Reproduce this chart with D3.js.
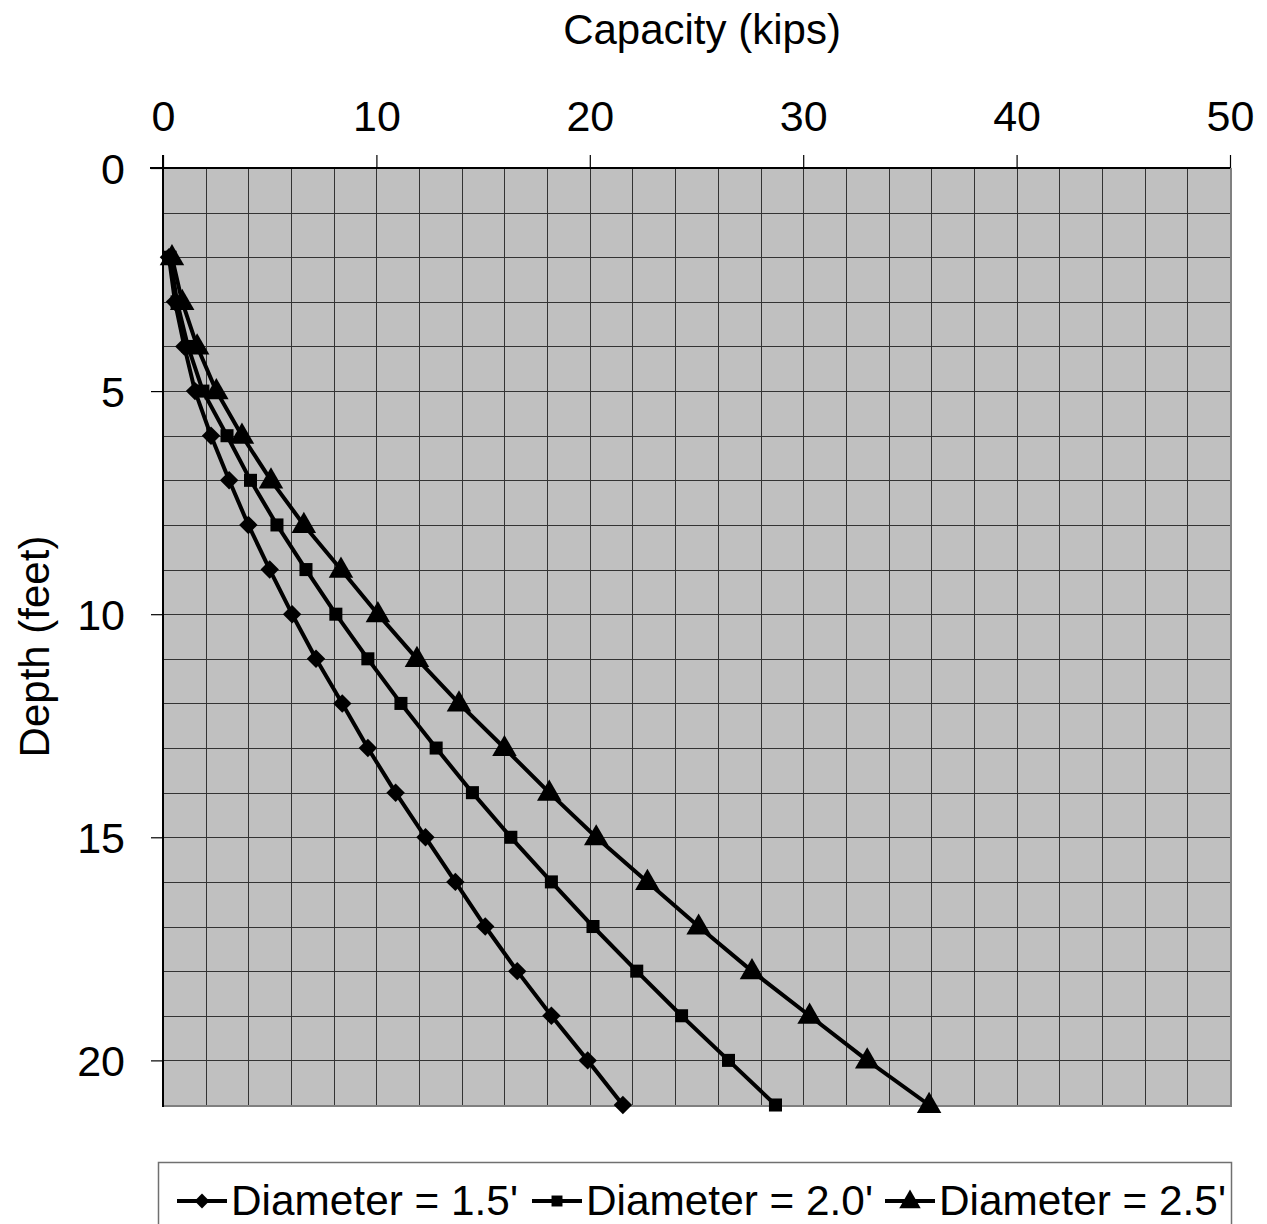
<!DOCTYPE html>
<html>
<head>
<meta charset="utf-8">
<script src="https://cdn.jsdelivr.net/npm/d3@7"></script>
<style>
  html, body { margin: 0; padding: 0; background: #fff; }
  svg { display: block; font-family: "Liberation Sans", Arial, sans-serif; }
</style>
</head>
<body>
<svg id="chart" width="1267" height="1224"></svg>
<script>
const depths = [2,3,4,5,6,7,8,9,10,11,12,13,14,15,16,17,18,19,20,21];
const dia15 = [0.28,0.56,1.0,1.5,2.25,3.1,4.0,5.0,6.05,7.17,8.4,9.6,10.9,12.3,13.7,15.1,16.6,18.2,19.9,21.55];
const dia20 = [0.33,0.66,1.17,1.87,3.0,4.1,5.34,6.7,8.1,9.6,11.15,12.8,14.5,16.3,18.2,20.15,22.2,24.3,26.5,28.7];
const dia25 = [0.42,0.9,1.6,2.5,3.7,5.06,6.6,8.34,10.07,11.9,13.87,16.0,18.1,20.3,22.7,25.1,27.6,30.3,33.0,35.9];
const seriesNames = ["Diameter = 1.5'", "Diameter = 2.0'", "Diameter = 2.5'"];
const xTicks = [0,10,20,30,40,50];
const yTicks = [0,5,10,15,20];
const xTitle = "Capacity (kips)";
const yTitle = "Depth (feet)";

const svg = d3.select("#chart");
const L = 163, R = 1230, T = 168, B = 1105;
const x = d3.scaleLinear().domain([0,50]).range([L,R]);
const y = d3.scaleLinear().domain([0,21]).range([T,B]);

// plot background
svg.append("rect").attr("x",L).attr("y",T).attr("width",R-L).attr("height",B-T).attr("fill","#c0c0c0");

// grid
const g = svg.append("g").attr("shape-rendering","crispEdges");
g.selectAll("line.vx").data(d3.range(2,50,2)).enter().append("line")
  .attr("x1",d=>Math.round(x(d))+0.5).attr("x2",d=>Math.round(x(d))+0.5)
  .attr("y1",T).attr("y2",B).attr("stroke","#333").attr("stroke-width",1);
g.selectAll("line.hy").data(d3.range(1,21,1)).enter().append("line")
  .attr("y1",d=>Math.round(y(d))+0.5).attr("y2",d=>Math.round(y(d))+0.5)
  .attr("x1",L).attr("x2",R).attr("stroke","#333").attr("stroke-width",1);

// border (right/bottom gray)
g.append("line").attr("x1",R+1).attr("x2",R+1).attr("y1",T).attr("y2",B+2).attr("stroke","#808080").attr("stroke-width",2);
g.append("line").attr("x1",L).attr("x2",R+2).attr("y1",B+1).attr("y2",B+1).attr("stroke","#808080").attr("stroke-width",2);

// axes
const xAxis = d3.axisTop(x).tickValues(xTicks).tickSize(13).tickPadding(24).tickFormat(d3.format("d"));
const yAxis = d3.axisLeft(y).tickValues(yTicks).tickSize(12).tickPadding(26).tickFormat(d3.format("d"));
const gx = svg.append("g").attr("transform",`translate(0,${T})`).call(xAxis);
const gy = svg.append("g").attr("transform",`translate(${L},0)`).call(yAxis);
[gx,gy].forEach(a=>{
  a.select(".domain").remove();
  a.selectAll(".tick line").attr("stroke","#000").attr("stroke-width",1.2);
  a.selectAll(".tick text").attr("font-size",43).attr("fill","#000").attr("font-family","Liberation Sans, Arial, sans-serif");
});
gy.selectAll(".tick text").attr("dy","0.36em");
svg.append("line").attr("x1",150).attr("x2",R).attr("y1",T).attr("y2",T).attr("stroke","#000").attr("stroke-width",2);
svg.append("line").attr("x1",L).attr("x2",L).attr("y1",155).attr("y2",B+2).attr("stroke","#000").attr("stroke-width",2);

// titles
svg.append("text").attr("x",702).attr("y",44).attr("text-anchor","middle").attr("font-size",42).text(xTitle);
svg.append("text").attr("transform",`translate(49,${(T+B)/2+10}) rotate(-90)`).attr("text-anchor","middle").attr("font-size",42).text(yTitle);

// series
const seriesData = [dia15, dia20, dia25];
const symbols = [d3.symbolSquare, d3.symbolSquare, d3.symbolTriangle];
const rot = [45, 0, 0];
const sizes = [170, 170, 260];
const line = d3.line().x(d=>x(d[0])).y(d=>y(d[1]));
const plot = svg.append("g");
seriesData.forEach((vals,i)=>{
  const pts = vals.map((v,j)=>[v, depths[j]]);
  plot.append("path").attr("d",line(pts)).attr("fill","none").attr("stroke","#000").attr("stroke-width",4).attr("stroke-linejoin","round");
});
seriesData.forEach((vals,i)=>{
  const pts = vals.map((v,j)=>[v, depths[j]]);
  plot.selectAll(null).data(pts).enter().append("path")
    .attr("d", d3.symbol().type(symbols[i]).size(sizes[i]))
    .attr("transform", d=>`translate(${x(d[0])},${y(d[1]) + (i===2?1:0)}) rotate(${rot[i]})`)
    .attr("fill","#000");
});

// legend
const lg = svg.append("g");
lg.append("rect").attr("x",158.5).attr("y",1162.5).attr("width",1073).attr("height",80).attr("fill","#fff").attr("stroke","#707070").attr("stroke-width",1.5);
const legX = [177, 532, 885];
const legTextW = [287, 287, 287];
const legSizes = [110, 120, 200];
seriesNames.forEach((name,i)=>{
  const lx = legX[i], ly = 1201;
  lg.append("line").attr("x1",lx).attr("x2",lx+50).attr("y1",ly).attr("y2",ly).attr("stroke","#000").attr("stroke-width",4);
  lg.append("path").attr("d", d3.symbol().type(symbols[i]).size(legSizes[i]))
    .attr("transform",`translate(${lx+25},${ly + (i===2?1:0)}) rotate(${rot[i]})`).attr("fill","#000");
  lg.append("text").attr("x",lx+54).attr("y",1215).attr("font-size",43)
    .attr("textLength",legTextW[i]).attr("lengthAdjust","spacingAndGlyphs").text(name);
});
</script>
</body>
</html>
